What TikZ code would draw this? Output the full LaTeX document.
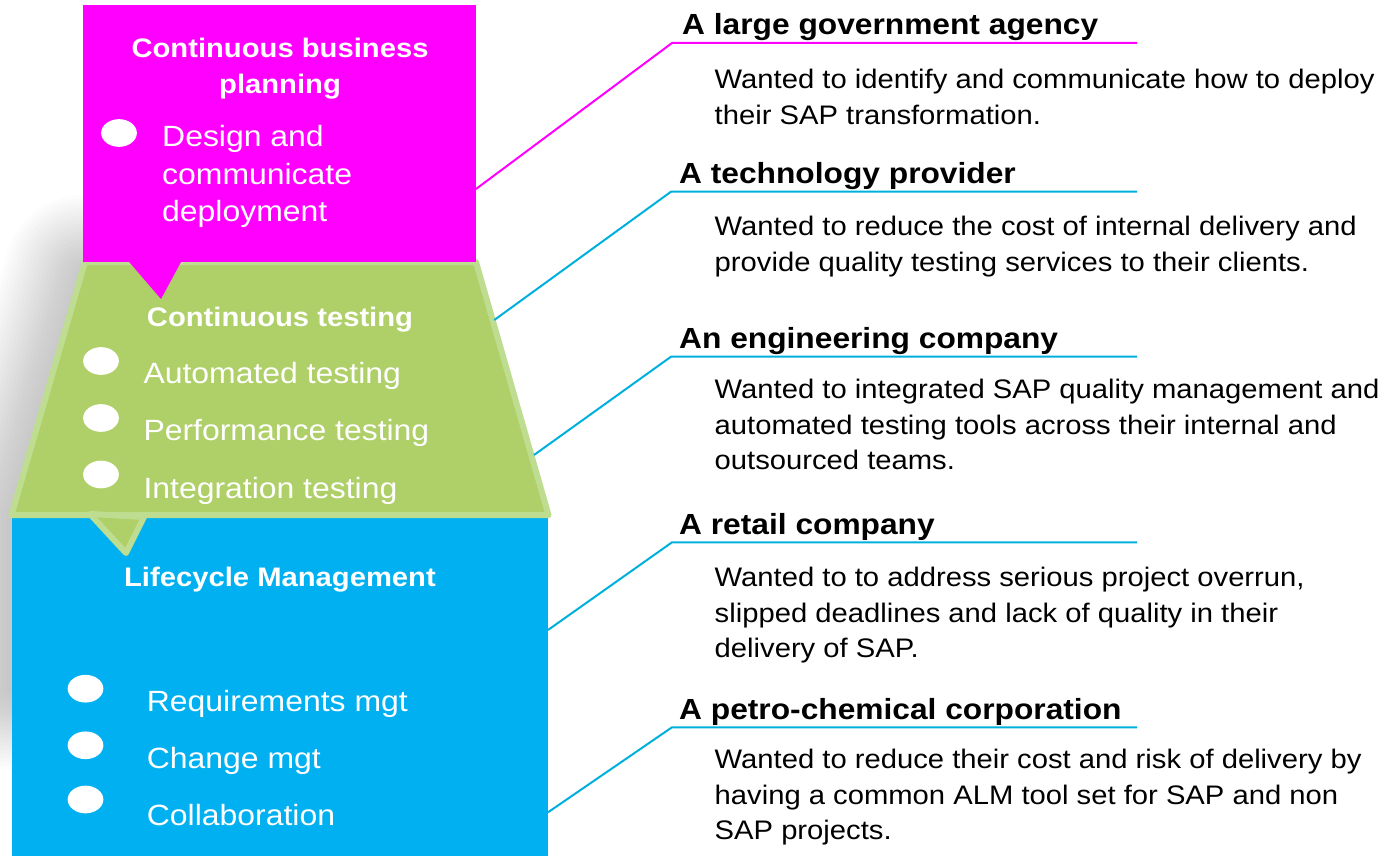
\documentclass[tikz,border=0pt]{standalone}
\usepackage{fontspec}
\setmainfont[FakeStretch=1.09]{Liberation Sans}
\usetikzlibrary{shapes.geometric}
\definecolor{pinkc}{HTML}{FF00FF}
\definecolor{greenf}{HTML}{AFCF68}
\definecolor{greenb}{HTML}{BEDD90}
\definecolor{bluec}{HTML}{00B0F0}
\definecolor{linec}{HTML}{00B0DC}
\begin{document}
\begin{tikzpicture}[x=1pt,y=-1pt,
  hd/.style={anchor=base west, inner sep=0pt, font=\fontsize{29.1}{35}\selectfont\bfseries},
  bd/.style={anchor=base west, inner sep=0pt, align=left, font=\fontsize{26.8}{35.5}\selectfont},
  ttl/.style={anchor=base, inner sep=0pt, align=center, text=white, font=\fontsize{26.8}{36}\selectfont\bfseries},
  itm/.style={anchor=base west, inner sep=0pt, align=left, text=white, font=\fontsize{29.3}{37.5}\selectfont},
  dot/.style={ellipse, fill=white, minimum width=35.7pt, minimum height=27.7pt, inner sep=0pt},
  conn/.style={line width=2pt},
]
\useasboundingbox (0,0) rectangle (1385,856);

% soft shadow on the left
\begin{scope}
  \clip (0,190) -- (84,190) -- (84,262) -- (9,517) -- (12,517) -- (12,780) -- (0,780) -- cycle;
  \foreach \w in {8,16,...,160}
    \draw[line width=\w pt, black, opacity=0.01, line join=round]
      (84,275) -- (476,275) -- (552,517) -- (552,690) -- (10,690) -- (10,517) -- cycle;
\end{scope}

% shapes
\fill[bluec] (12.3,518) rectangle (548,860);
\filldraw[fill=greenf, draw=greenb, line width=6pt, line join=round]
  (85,262) -- (476,262) -- (548.5,515) -- (11.5,515) -- cycle;
\filldraw[fill=greenf, draw=greenb, line width=6pt, line join=round]
  (90,514) -- (144,517) -- (126,553) -- cycle;
\fill[pinkc] (83,5) rectangle (476,262);
\fill[pinkc] (124,256) -- (181,262) -- (161,299) -- cycle;

% bullets
\node[dot] (b0) at (119,133) {};
\node[dot] (b1) at (101,361) {};
\node[dot] (b2) at (101,418) {};
\node[dot] (b3) at (101,474.5) {};
\node[dot] (b4) at (85.5,688.7) {};
\node[dot] (b5) at (85.5,745.3) {};
\node[dot] (b6) at (85.5,799.5) {};

% left texts (multi-line nodes are placed by the baseline of their last line)
\node[ttl] (t1) at (280,93.3) {Continuous business\\planning};
\node[itm] (i0) at (162,221.7) {Design and\\communicate\\deployment};
\node[ttl] (t2) at (280,326) {Continuous testing};
\node[itm] (i1) at (143.3,383.3) {Automated testing};
\node[itm] (i2) at (143.3,440.7) {Performance testing};
\node[itm] (i3) at (143.3,498.3) {Integration testing};
\node[ttl] (t3) at (280,586.7) {Lifecycle Management};
\node[itm] (i4) at (146.7,711.7) {Requirements mgt};
\node[itm] (i5) at (146.7,768.3) {Change mgt};
\node[itm] (i6) at (146.7,825) {Collaboration};

% right headings
\node[hd] (h1) at (682,34.6) {A large government agency};
\node[hd] (h2) at (679,183.3) {A technology provider};
\node[hd] (h3) at (679,348.3) {An engineering company};
\node[hd] (h4) at (679,534) {A retail company};
\node[hd] (h5) at (679,719) {A petro-chemical corporation};

% right bodies
\node[bd] (d1) at (714.5,124.5) {Wanted to identify and communicate how to deploy\\their SAP transformation.};
\node[bd] (d2) at (714.5,271) {Wanted to reduce the cost of internal delivery and\\provide quality testing services to their clients.};
\node[bd] (d3) at (714.5,469.5) {Wanted to integrated SAP quality management and\\automated testing tools across their internal and\\outsourced teams.};
\node[bd] (d4) at (714.5,657.5) {Wanted to to address serious project overrun,\\slipped deadlines and lack of quality in their\\delivery of SAP.};
\node[bd] (d5) at (714.5,839.5) {Wanted to reduce their cost and risk of delivery by\\having a common ALM tool set for SAP and non\\SAP projects.};

% connectors
\coordinate (s1) at (476,189);
\coordinate (k1) at (672,43);
\coordinate (e1) at (1137,43);
\coordinate (s2) at (494.3,320);
\coordinate (k2) at (671,191.7);
\coordinate (e2) at (1137,191.7);
\coordinate (s3) at (534,455);
\coordinate (k3) at (671,356.7);
\coordinate (e3) at (1137,356.7);
\coordinate (s4) at (548,630);
\coordinate (k4) at (672,542.3);
\coordinate (e4) at (1137,542.3);
\coordinate (s5) at (548,812.3);
\coordinate (k5) at (672,727.3);
\coordinate (e5) at (1137,727.3);
\draw[conn, pinkc] (s1) -- (k1) -- (e1);
\draw[conn, linec] (s2) -- (k2) -- (e2);
\draw[conn, linec] (s3) -- (k3) -- (e3);
\draw[conn, linec] (s4) -- (k4) -- (e4);
\draw[conn, linec] (s5) -- (k5) -- (e5);
\end{tikzpicture}
\end{document}
